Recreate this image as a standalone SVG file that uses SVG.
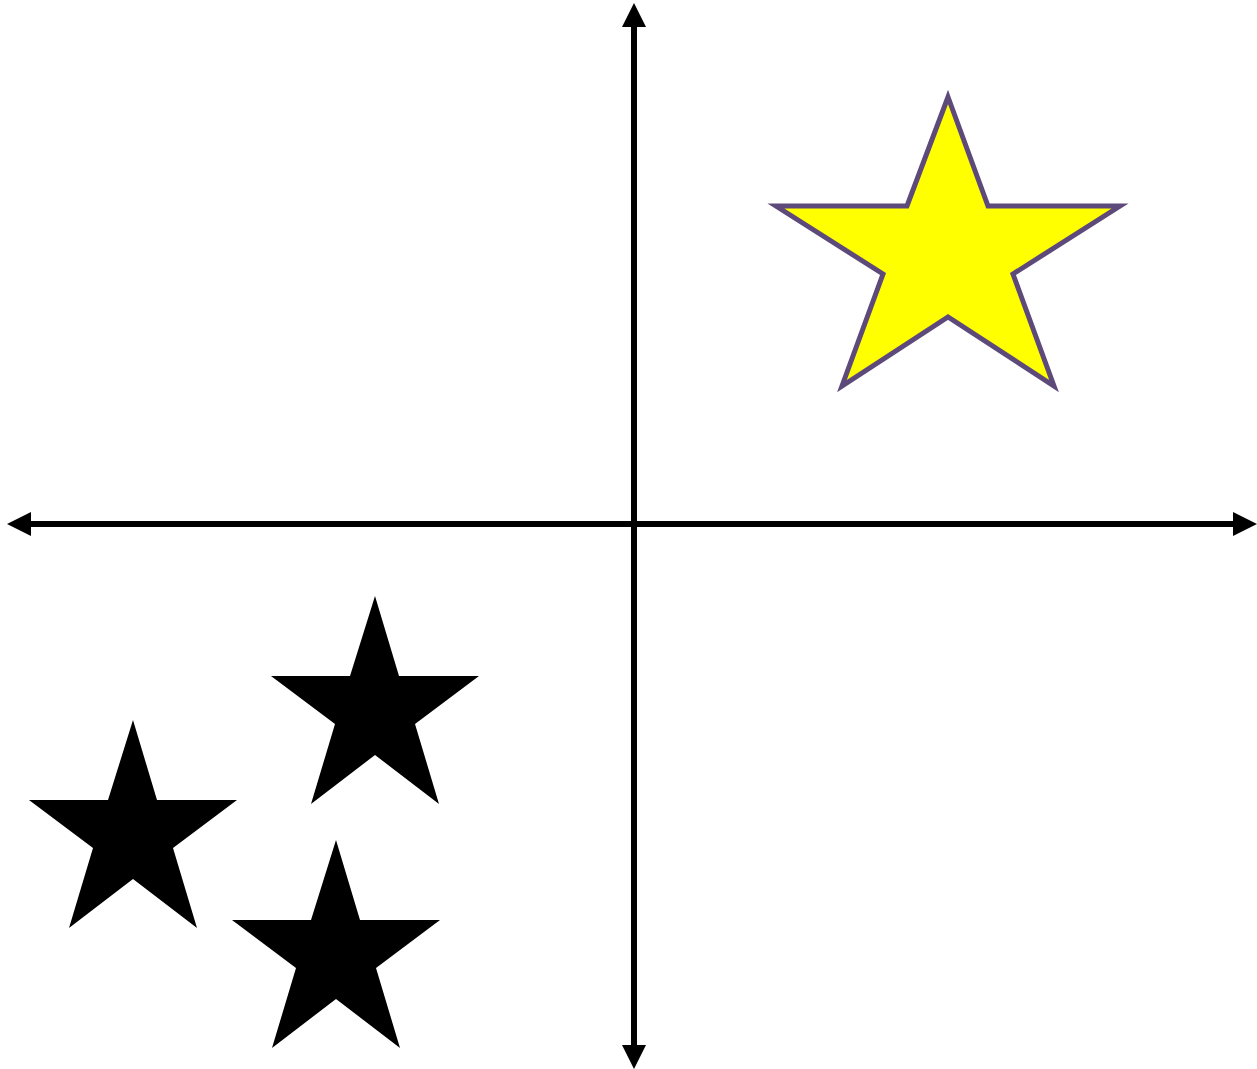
<svg xmlns="http://www.w3.org/2000/svg" xmlns:xlink="http://www.w3.org/1999/xlink" width="1257" height="1069" viewBox="0 0 1257 1069">
<style>
.axis{stroke:#000;stroke-width:6;fill:none}
.bstar{fill:#000}
.ystar{fill:#ffff00;stroke:#5e4a7a;stroke-width:5;stroke-linejoin:miter;stroke-miterlimit:10}
</style>
<defs>
<marker id="arr" viewBox="0 0 24 24" refX="0" refY="12" markerWidth="24" markerHeight="24" markerUnits="userSpaceOnUse" orient="auto-start-reverse">
<path d="M0,0 L24,12 L0,24 z" fill="#000"/>
</marker>
<path id="star" d="M0,0 L24,80 L104,80 L40,128 L64,208 L0,159 L-64,208 L-40,128 L-104,80 L-25,80 Z"/>
</defs>
<g id="connectors">
<line class="axis" x1="634" y1="1045" x2="634" y2="27" marker-start="url(#arr)" marker-end="url(#arr)"/>
<line class="axis" x1="31" y1="524" x2="1233" y2="524" marker-start="url(#arr)" marker-end="url(#arr)"/>
</g>
<g id="star-yellow">
<path class="ystar" d="M948,97 L988,206 L1120,206 L1013,274 L1054,386 L948,317 L842,386 L883,274 L776,206 L907,206 Z"/>
</g>
<g id="star-1"><use xlink:href="#star" class="bstar" x="375" y="596"/></g>
<g id="star-2"><use xlink:href="#star" class="bstar" x="133" y="720"/></g>
<g id="star-3"><use xlink:href="#star" class="bstar" x="336" y="840"/></g>
</svg>
